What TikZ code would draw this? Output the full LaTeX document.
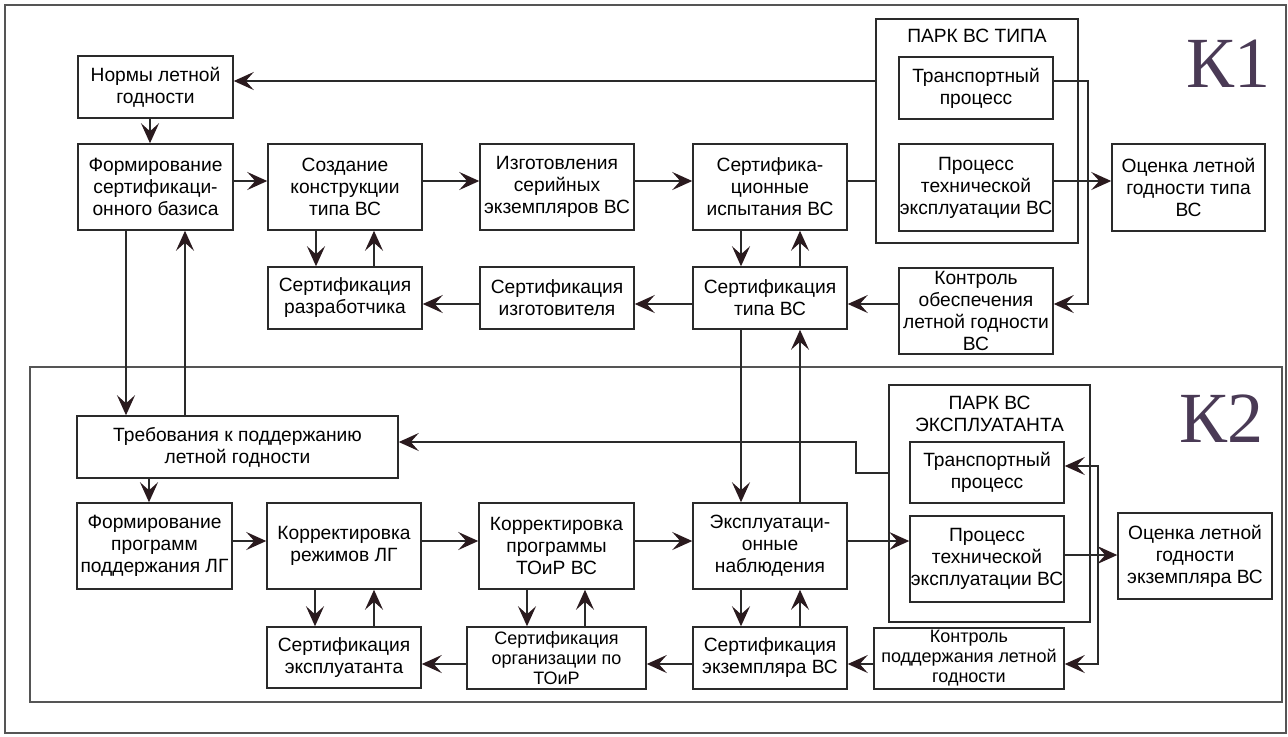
\documentclass[tikz,border=0pt]{standalone}
\usepackage{fontspec}
\setmainfont{Liberation Sans}
\newfontfamily\kfont{Liberation Serif}
\usetikzlibrary{arrows.meta}
\definecolor{lc}{HTML}{2A2A2A}
\definecolor{ac}{HTML}{2A1A1E}
\definecolor{kc}{HTML}{4A3A55}
\definecolor{fc}{HTML}{555555}
\tikzset{
  box/.style={draw=lc, line width=0.75pt, align=center, inner sep=0pt,
    font=\fontsize{9.6}{11}\selectfont},
  smallbox/.style={font=\fontsize{9}{10}\selectfont},
  ln/.style={draw=lc, line width=0.75pt},
  arr/.style={ln, -{Stealth[length=10pt, width=9pt, inset=4pt, color=ac]}},
  arrb/.style={ln, {Stealth[length=10pt, width=9pt, inset=4pt, color=ac]}-{Stealth[length=10pt, width=9pt, inset=4pt, color=ac]}},
  frame/.style={draw=fc, line width=0.75pt},
  ktext/.style={font=\kfont\fontsize{36}{36}\selectfont, text=kc, anchor=base},
  title/.style={align=center, inner sep=0pt, font=\fontsize{9.6}{11}\selectfont}
}
\newcommand\bx[7][]{%
  \pgfmathsetmacro\bxcx{(#3+#5)/2}%
  \pgfmathsetmacro\bxcy{(#4+#6)/2}%
  \pgfmathsetmacro\bxw{(#5-#3)*0.5}%
  \pgfmathsetmacro\bxh{(#6-#4)*0.5}%
  \node[box, minimum width=\bxw pt, minimum height=\bxh pt, #1] (#2) at (\bxcx,\bxcy) {#7};}
\begin{document}
\begin{tikzpicture}[x=0.5pt, y=-0.5pt]
\useasboundingbox (0,0) rectangle (1288,736);
\fill[white] (0,0) rectangle (1288,736);
% frames
\draw[frame] (5,5) rectangle (1286,733);
\draw[frame] (30,367) rectangle (1282,702);
\node[ktext] (k1) at (1228,87) {К1};
\node[ktext] (k2) at (1221,442) {К2};
% ---- K1 nodes
\bx{norm}{78}{56}{233}{118}{Нормы летной\\годности}
\bx{fcb}{78}{144}{233}{230}{Формирование\\сертификаци-\\онного базиса}
\bx{sozd}{268}{144}{422}{230}{Создание\\конструкции\\типа ВС}
\bx{razr}{268}{267}{422}{329}{Сертификация\\разработчика}
\bx{izg}{480}{144}{634}{230}{Изготовления\\серийных\\экземпляров ВС}
\bx{izgc}{480}{267}{634}{329}{Сертификация\\изготовителя}
\bx{ispyt}{693}{144}{847}{230}{Сертифика-\\ционные\\испытания ВС}
\bx{sertip}{693}{267}{847}{329}{Сертификация\\типа ВС}
\bx{park1}{876}{19}{1078}{243}{}
\node[title] (park1t) at (977,36) {ПАРК ВС ТИПА};
\bx{tr1}{899}{57}{1053}{119}{Транспортный\\процесс}
\bx{pte1}{899}{144}{1053}{231}{Процесс\\технической\\эксплуатации ВС}
\bx{ocen1}{1112}{144}{1265}{231}{Оценка летной\\годности типа\\ВС}
\bx{kontr1}{899}{268}{1053}{354}{Контроль\\обеспечения\\летной годности\\ВС}
% ---- K2 nodes
\bx{treb}{77}{416}{398}{478}{Требования к поддержанию\\летной годности}
\bx{fpp}{77}{503}{232}{589}{Формирование\\программ\\поддержания ЛГ}
\bx{korrez}{267}{503}{421}{589}{Корректировка\\режимов ЛГ}
\bx{korprog}{479}{503}{634}{589}{Корректировка\\программы\\ТОиР ВС}
\bx{nabl}{693}{503}{847}{589}{Эксплуатаци-\\онные\\наблюдения}
\bx{sertexp}{267}{627}{421}{688}{Сертификация\\эксплуатанта}
\bx[smallbox]{sertorg}{467}{627}{646}{689}{Сертификация\\организации по\\ТОиР}
\bx{sertekz}{693}{627}{847}{689}{Сертификация\\экземпляра ВС}
\bx{park2}{889}{385}{1090}{622}{}
\node[title] (park2t) at (989.5,414) {ПАРК ВС\\ЭКСПЛУАТАНТА};
\bx{tr2}{910}{442}{1064}{503}{Транспортный\\процесс}
\bx{pte2}{910}{516}{1064}{602}{Процесс\\технической\\эксплуатации ВС}
\bx{ocen2}{1118}{513}{1272}{599}{Оценка летной\\годности\\экземпляра ВС}
\bx[smallbox]{kontr2}{874}{628}{1064}{689}{Контроль\\поддержания летной\\годности}
% ---- K1 connectors
\draw[arr] (park1.west |- 0,81) -- (norm.east |- 0,81);
\draw[arr] (norm.south -| 150,0) -- (fcb.north -| 150,0);
\draw[arr] (fcb.east |- 0,181) -- (sozd.west |- 0,181);
\draw[arr] (sozd.east |- 0,181) -- (izg.west |- 0,181);
\draw[arr] (izg.east |- 0,181) -- (ispyt.west |- 0,181);
\draw[ln] (ispyt.east |- 0,181) -- (park1.west |- 0,181);
\draw[arr] (pte1.east |- 0,181) -- (ocen1.west |- 0,181);
\draw[arr] (tr1.east |- 0,81) -| (1088,304) -- (kontr1.east |- 0,304);
\draw[arr] (sozd.south -| 316,0) -- (razr.north -| 316,0);
\draw[arr] (razr.north -| 374,0) -- (sozd.south -| 374,0);
\draw[arr] (ispyt.south -| 741,0) -- (sertip.north -| 741,0);
\draw[arr] (sertip.north -| 800,0) -- (ispyt.south -| 800,0);
\draw[arr] (sertip.west |- 0,304) -- (izgc.east |- 0,304);
\draw[arr] (izgc.west |- 0,304) -- (razr.east |- 0,304);
\draw[arr] (kontr1.west |- 0,304) -- (sertip.east |- 0,304);
\draw[arr] (fcb.south -| 126,0) -- (treb.north -| 126,0);
\draw[arr] (treb.north -| 185,0) -- (fcb.south -| 185,0);
\draw[arr] (sertip.south -| 741,0) -- (nabl.north -| 741,0);
\draw[arr] (nabl.north -| 800,0) -- (sertip.south -| 800,0);
% ---- K2 connectors
\draw[arr] (treb.south -| 149,0) -- (fpp.north -| 149,0);
\draw[arr] (fpp.east |- 0,541) -- (korrez.west |- 0,541);
\draw[arr] (korrez.east |- 0,541) -- (korprog.west |- 0,541);
\draw[arr] (korprog.east |- 0,541) -- (nabl.west |- 0,541);
\draw[arr] (nabl.east |- 0,541) -- (pte2.west |- 0,541);
\draw[arr] (pte2.east |- 0,555) -- (ocen2.west |- 0,555);
\draw[arr] (korrez.south -| 315,0) -- (sertexp.north -| 315,0);
\draw[arr] (sertexp.north -| 374,0) -- (korrez.south -| 374,0);
\draw[arr] (korprog.south -| 527,0) -- (sertorg.north -| 527,0);
\draw[arr] (sertorg.north -| 585,0) -- (korprog.south -| 585,0);
\draw[arr] (nabl.south -| 741,0) -- (sertekz.north -| 741,0);
\draw[arr] (sertekz.north -| 800,0) -- (nabl.south -| 800,0);
\draw[arr] (sertekz.west |- 0,664) -- (sertorg.east |- 0,664);
\draw[arr] (sertorg.west |- 0,664) -- (sertexp.east |- 0,664);
\draw[arr] (kontr2.west |- 0,664) -- (sertekz.east |- 0,664);
\draw[arrb] (tr2.east |- 0,466) -| (1098,664) -- (kontr2.east |- 0,664);
\draw[arr] (park2.west |- 0,473) -| (856,442) -- (treb.east |- 0,442);
\end{tikzpicture}
\end{document}
